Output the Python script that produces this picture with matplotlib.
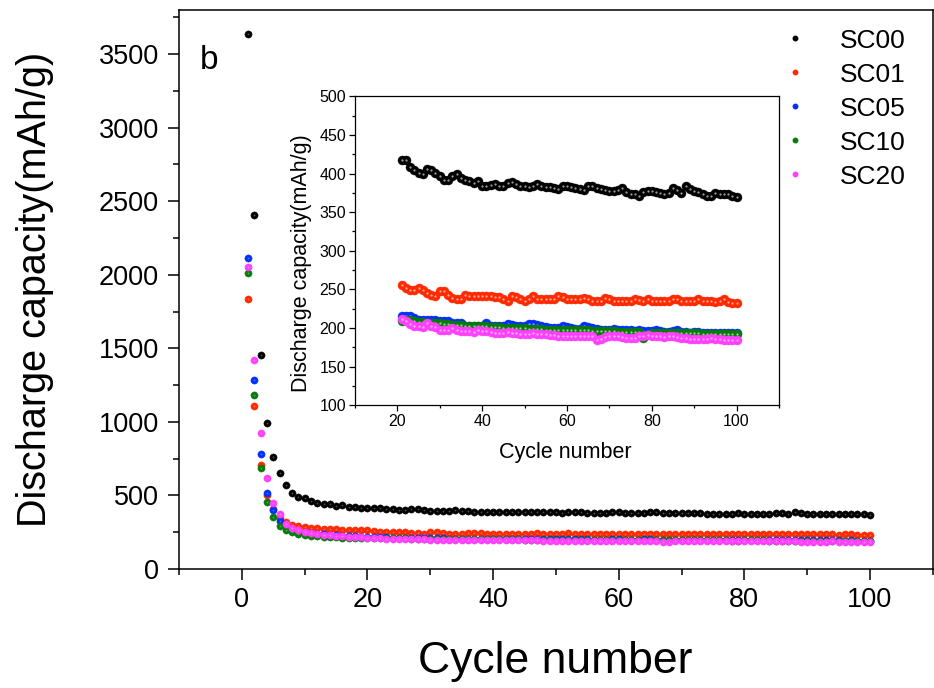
import matplotlib
matplotlib.use("Agg")
import matplotlib.pyplot as plt
import numpy as np
from matplotlib.ticker import MultipleLocator

plt.rcParams["font.family"] = ["Liberation Sans", "DejaVu Sans"]

cycles = np.arange(1, 101)
labels = ["SC00", "SC01", "SC05", "SC10", "SC20"]
colors = ["#000000", "#ff2a00", "#0030ff", "#0a7a0a", "#ff40ff"]

sc00 = [3640, 2408, 1452, 990, 760, 651, 570, 516, 488, 480,
        461, 450, 441, 441, 427, 432, 423, 423, 414, 414,
        417, 417, 409, 405, 401, 399, 406, 405, 401, 397,
        392, 392, 397, 400, 394, 392, 390, 388, 390, 384,
        384, 385, 387, 384, 384, 388, 389, 386, 384, 384,
        383, 384, 387, 384, 383, 383, 381, 380, 384, 384,
        383, 381, 380, 379, 384, 384, 381, 380, 379, 378,
        378, 379, 381, 376, 373, 373, 371, 376, 378, 377,
        376, 375, 374, 375, 381, 379, 375, 384, 380, 377,
        376, 373, 371, 371, 375, 374, 373, 373, 371, 369]
sc01 = [1838, 1106, 706, 502, 407, 346, 319, 298, 292, 282,
        279, 277, 275, 273, 270, 268, 266, 265, 263, 262,
        256, 252, 249, 249, 252, 249, 245, 243, 241, 248,
        248, 243, 239, 238, 237, 243, 242, 242, 241, 241,
        241, 241, 240, 240, 237, 235, 242, 240, 238, 235,
        237, 242, 238, 237, 237, 237, 237, 241, 240, 237,
        237, 237, 237, 239, 237, 235, 235, 235, 239, 237,
        235, 235, 235, 235, 235, 237, 236, 235, 237, 235,
        235, 235, 235, 235, 237, 237, 235, 235, 235, 235,
        237, 235, 235, 235, 234, 235, 237, 234, 233, 232]
sc05 = [2117, 1282, 780, 516, 400, 326, 292, 271, 258, 251,
        245, 240, 236, 232, 229, 226, 224, 222, 220, 218,
        215, 216, 215, 213, 211, 211, 211, 211, 211, 209,
        209, 209, 207, 207, 206, 203, 203, 203, 203, 203,
        206, 202, 202, 202, 202, 205, 204, 202, 202, 202,
        205, 205, 204, 202, 201, 200, 200, 200, 202, 201,
        200, 199, 199, 202, 201, 200, 199, 198, 198, 198,
        199, 198, 197, 197, 197, 196, 197, 196, 196, 196,
        197, 196, 195, 195, 196, 197, 195, 195, 194, 195,
        195, 194, 194, 194, 194, 193, 194, 193, 193, 193]
sc10 = [2015, 1180, 685, 455, 353, 292, 265, 251, 237, 231,
        226, 222, 219, 216, 214, 212, 211, 210, 209, 209,
        209, 210, 210, 209, 208, 208, 207, 207, 206, 206,
        205, 205, 204, 204, 204, 203, 203, 202, 202, 202,
        202, 201, 201, 201, 200, 200, 200, 200, 200, 200,
        199, 199, 199, 199, 198, 198, 198, 198, 198, 198,
        197, 197, 197, 197, 197, 196, 196, 196, 196, 196,
        196, 195, 195, 195, 195, 195, 195, 187, 192, 194,
        194, 194, 194, 193, 193, 193, 193, 193, 193, 193,
        193, 192, 192, 192, 192, 192, 192, 192, 192, 192]
sc20 = [2056, 1418, 923, 617, 448, 373, 305, 278, 265, 251,
        244, 238, 233, 229, 225, 222, 219, 217, 215, 213,
        212, 209, 205, 202, 202, 201, 206, 203, 201, 198,
        197, 198, 200, 198, 196, 196, 196, 195, 197, 196,
        196, 195, 194, 194, 194, 195, 194, 193, 192, 192,
        192, 193, 192, 192, 192, 191, 191, 190, 190, 190,
        190, 189, 189, 189, 189, 189, 185, 186, 188, 190,
        190, 189, 188, 187, 187, 187, 189, 190, 191, 190,
        189, 189, 188, 189, 189, 188, 187, 187, 186, 186,
        186, 186, 186, 187, 186, 186, 185, 185, 185, 185]
series = [sc00, sc01, sc05, sc10, sc20]

inset_start = 21


def style_axes(ax, major_len, minor_len, width, labelsize, pad):
    for side in ["left", "bottom", "top", "right"]:
        ax.spines[side].set_linewidth(width)
    ax.tick_params(which="major", direction="out", length=major_len, width=width,
                   labelsize=labelsize, pad=pad, top=False, right=False)
    ax.tick_params(which="minor", direction="out", length=minor_len, width=width,
                   top=False, right=False)


def draw_series(ax, ms, glint_alpha, start=1):
    for vals, col, lab in zip(series, colors, labels):
        x = cycles[start - 1:]
        y = np.asarray(vals[start - 1:], dtype=float)
        ax.plot(x, y, "o", ms=ms, color=col, mec=col, mew=0.3, label=lab)
        # light glint like the original ball markers
        ax.plot(x, y, "o", ms=ms * 0.25, color="white", mew=0, alpha=glint_alpha)


def main() -> None:
    fig = plt.figure(figsize=(9.34, 6.88), dpi=100)
    ax = fig.add_axes([0.1917, 0.173, 0.807, 0.8125])
    draw_series(ax, ms=5.2, glint_alpha=0.3)
    ax.set_xlim(-10, 110)
    ax.set_ylim(0, 3800)
    ax.xaxis.set_major_locator(MultipleLocator(20))
    ax.xaxis.set_minor_locator(MultipleLocator(10))
    ax.yaxis.set_major_locator(MultipleLocator(500))
    ax.yaxis.set_minor_locator(MultipleLocator(250))
    style_axes(ax, 8, 4.5, 1.1, 19.5, 6.5)
    ax.tick_params(axis="x", which="major", pad=5)
    ax.set_xlabel("Cycle number", fontsize=32, va="center")
    ax.xaxis.set_label_coords(0.499, -0.166)
    ax.set_ylabel("Discharge capacity(mAh/g)", fontsize=28.5, va="center")
    ax.yaxis.set_label_coords(-0.191, 0.5)
    ax.text(0.028, 0.91, "b", transform=ax.transAxes, fontsize=24, ha="left", va="center")

    handles = [plt.Line2D([], [], ls="none", marker="o", ms=3.2, color=c) for c in colors]
    ax.legend(handles, labels, loc="upper right", bbox_to_anchor=(0.985, 0.995),
              frameon=False, fontsize=19, handlelength=0.6, handletextpad=1.4,
              labelspacing=0.38, borderaxespad=0.2)

    ins = fig.add_axes([0.380, 0.411, 0.454, 0.449])
    draw_series(ins, ms=6.5, glint_alpha=0.6, start=inset_start)
    ins.set_xlim(10, 110)
    ins.set_ylim(100, 500)
    ins.xaxis.set_major_locator(MultipleLocator(20))
    ins.xaxis.set_minor_locator(MultipleLocator(10))
    ins.yaxis.set_major_locator(MultipleLocator(50))
    ins.yaxis.set_minor_locator(MultipleLocator(25))
    style_axes(ins, 4, 2.5, 0.9, 11.5, 2.5)
    ins.set_xlabel("Cycle number", fontsize=15.5, va="center")
    ins.xaxis.set_label_coords(0.495, -0.152)
    ins.set_ylabel("Discharge capacity(mAh/g)", fontsize=15.5, va="center")
    ins.yaxis.set_label_coords(-0.125, 0.46)

    fig.savefig("out.png", dpi=100)
    plt.close(fig)


if __name__ == "__main__":
    main()
